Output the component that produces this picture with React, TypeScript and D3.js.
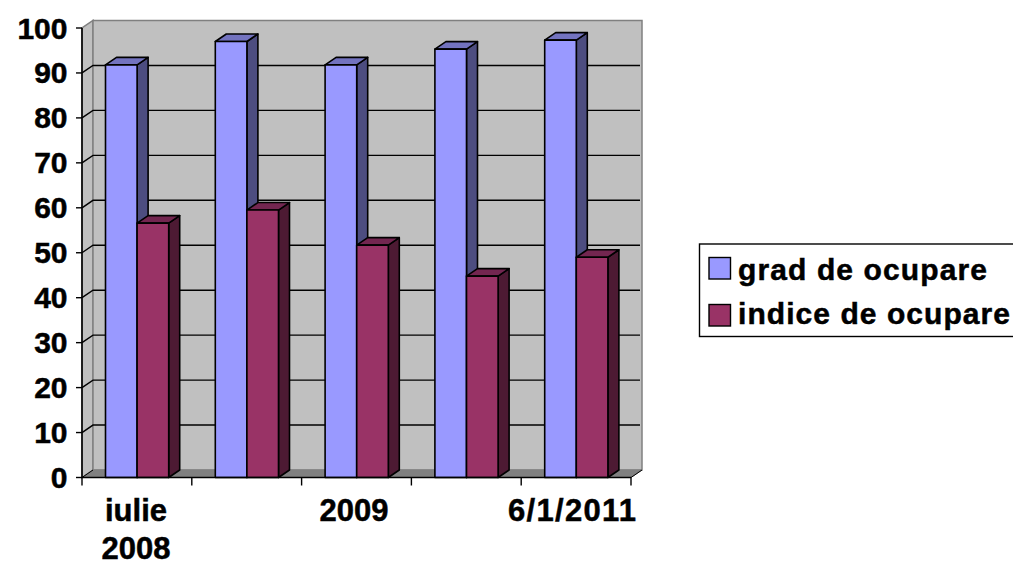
import React from "react";
import * as d3 from "d3";

const categories = ["iulie 2008", "", "2009", "", "6/1/2011"];
const grad = [91.8, 97, 91.8, 95.3, 97.3];
const indice = [56.6, 59.5, 51.7, 44.8, 49];
const yTicks = d3.range(0, 101, 10);
const seriesNames = ["grad de ocupare", "indice de ocupare"];
const colors = { grad: "#9999ff", gradTop: "#7373bf", gradSide: "#4d4d80", ind: "#993366", indTop: "#732650", indSide: "#4d1a33" };

const W = 1013, H = 564;
const dx = 11, dy = -7.5;
const font = "'Liberation Sans', Arial, sans-serif";

function Bar({ x, w, y0, y1, front, top, side }: any) {
  const s = { stroke: "#000", strokeWidth: 1.6, strokeLinejoin: "round" as const };
  return (
    <g>
      <polygon points={`${x + w},${y1} ${x + w + dx},${y1 + dy} ${x + w + dx},${y0 + dy} ${x + w},${y0}`} fill={side} {...s} />
      <polygon points={`${x},${y1} ${x + dx},${y1 + dy} ${x + w + dx},${y1 + dy} ${x + w},${y1}`} fill={top} {...s} />
      <rect x={x} y={y1} width={w} height={y0 - y1} fill={front} {...s} />
    </g>
  );
}

export default function App() {
  const y = d3.scaleLinear().domain([0, 100]).range([477.5, 28]);
  const x = d3.scaleLinear().domain([0, 5]).range([82, 631]);
  const barOff = 23.5, barW = 31.6;
  const x0 = x(0), x1 = x(5), yb = y(0), yt = y(100);
  const textStroke = { stroke: "#000", strokeWidth: 0.5 };
  return (
    <svg width={W} height={H} viewBox={`0 0 ${W} ${H}`} style={{ position: "absolute", left: 0, top: 0, background: "#fff" }} fontFamily={font} fontWeight="bold">
      {/* walls */}
      <polygon points={`${x0},${yb} ${x0 + dx},${yb + dy} ${x0 + dx},${yt + dy} ${x0},${yt}`} fill="#c0c0c0" stroke="#808080" strokeWidth={1.5} />
      <rect x={x0 + dx} y={yt + dy} width={x1 - x0} height={yb - yt} fill="#c0c0c0" stroke="#808080" strokeWidth={1.5} />
      <polygon points={`${x0},${yb} ${x0 + dx},${yb + dy} ${x1 + dx},${yb + dy} ${x1},${yb}`} fill="#808080" stroke="#808080" strokeWidth={1} />
      {/* gridlines */}
      {yTicks.slice(1, -1).map((t) => (
        <polyline key={t} points={`${x0},${y(t)} ${x0 + dx},${y(t) + dy} ${x1 + dx - 2},${y(t) + dy}`} fill="none" stroke="#000" strokeWidth={1.4} />
      ))}
      <polyline points={`${x0},${yb} ${x0 + dx},${yb + dy}`} stroke="#000" strokeWidth={1} fill="none" />
      <polyline points={`${x1},${yb} ${x1 + dx},${yb + dy}`} stroke="#000" strokeWidth={1} fill="none" />
      {/* bars */}
      {categories.map((_, i) => (
        <g key={i}>
          <Bar x={x(i) + barOff} w={barW} y0={yb} y1={y(grad[i])} front={colors.grad} top={colors.gradTop} side={colors.gradSide} />
          <Bar x={x(i) + barOff + barW} w={barW} y0={yb} y1={y(indice[i])} front={colors.ind} top={colors.indTop} side={colors.indSide} />
        </g>
      ))}
      {/* axes */}
      <line x1={x0} x2={x0} y1={yt} y2={yb} stroke="#000" strokeWidth={1.6} />
      <line x1={x0} x2={x1} y1={yb} y2={yb} stroke="#000" strokeWidth={1.6} />
      {yTicks.map((t) => (
        <g key={t}>
          <line x1={x0 - 6} x2={x0} y1={y(t)} y2={y(t)} stroke="#000" strokeWidth={1.4} />
          <text x={67.5} y={y(t) + 10.5} textAnchor="end" fontSize={30} fill="#000" {...textStroke}>{t}</text>
        </g>
      ))}
      {d3.range(0, 6).map((i) => (
        <line key={i} x1={x(i)} x2={x(i)} y1={yb} y2={yb + 8} stroke="#000" strokeWidth={1.4} />
      ))}
      <text x={136} y={521} textAnchor="middle" fontSize={31} {...textStroke}>iulie</text>
      <text x={136} y={559} textAnchor="middle" fontSize={31} {...textStroke}>2008</text>
      <text x={354} y={521} textAnchor="middle" fontSize={31} {...textStroke}>{categories[2]}</text>
      <text x={508} y={521} fontSize={31} textLength={128} lengthAdjust="spacing" {...textStroke}>{categories[4]}</text>
      {/* legend */}
      <rect x={699.5} y={244} width={340} height={92.5} fill="#fff" stroke="#000" strokeWidth={1.4} />
      <rect x={709} y={257.5} width={21.5} height={21.5} fill={colors.grad} stroke="#000" strokeWidth={1.4} />
      <rect x={709} y={304.5} width={21.5} height={21.5} fill={colors.ind} stroke="#000" strokeWidth={1.4} />
      <text x={738} y={280} fontSize={30} textLength={249} lengthAdjust="spacing" {...textStroke}>{seriesNames[0]}</text>
      <text x={738} y={324} fontSize={30} textLength={272} lengthAdjust="spacing" {...textStroke}>{seriesNames[1]}</text>
    </svg>
  );
}
